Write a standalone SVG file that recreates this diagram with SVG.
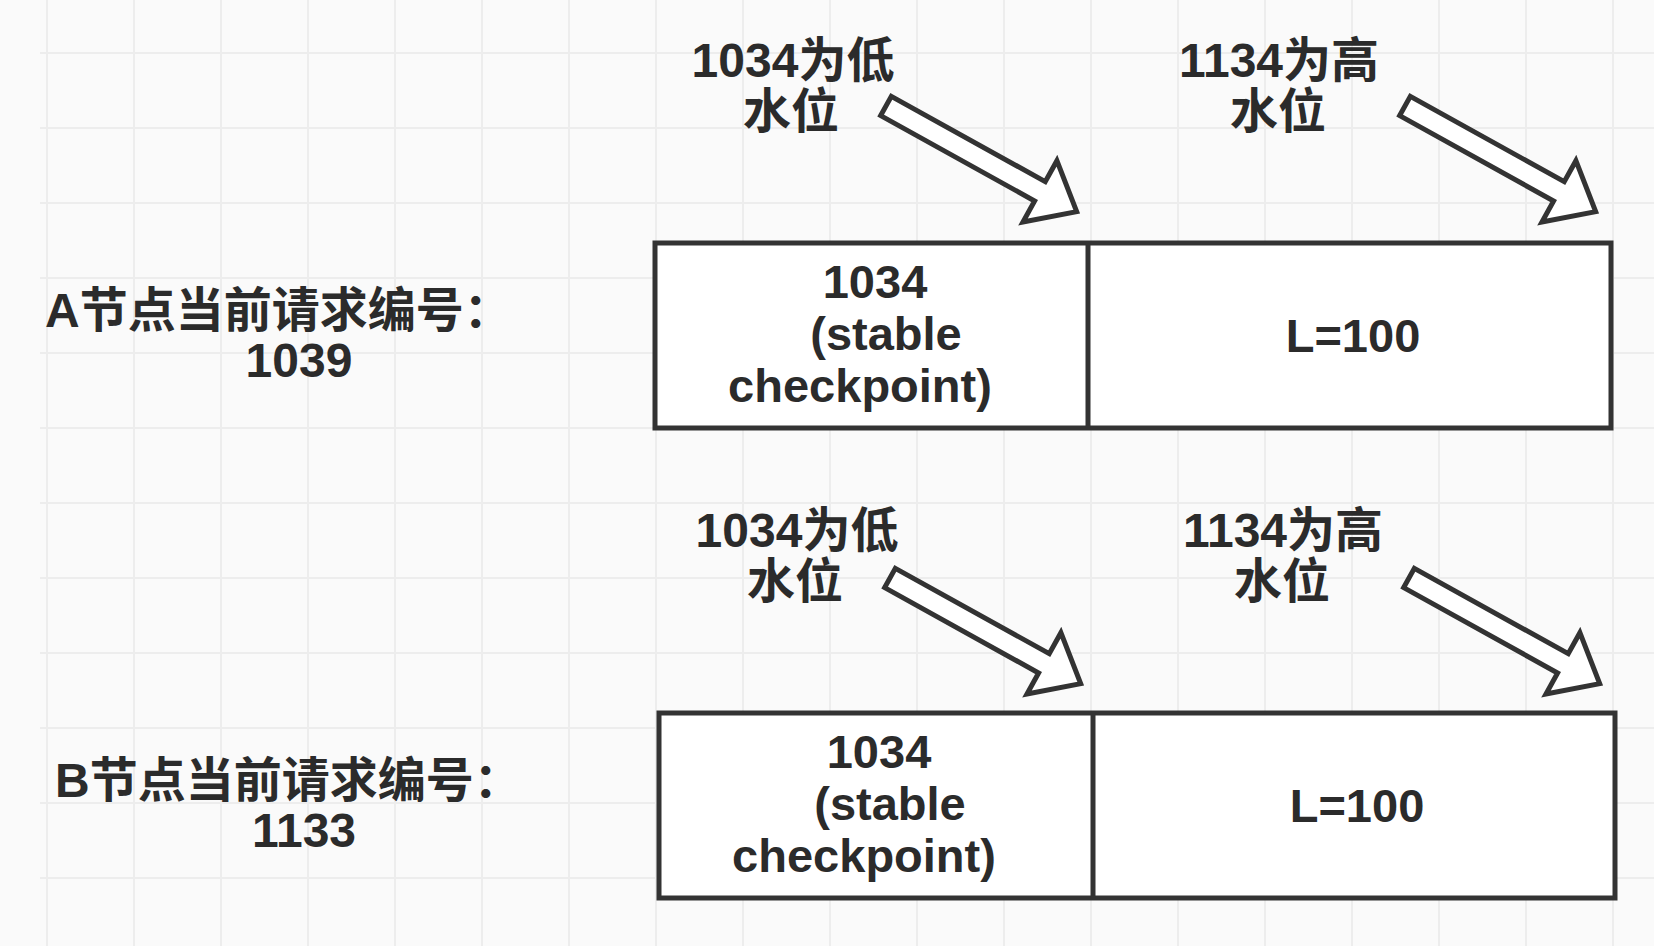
<svg xmlns="http://www.w3.org/2000/svg" width="1654" height="946" viewBox="0 0 1654 946">
  <defs>
    <style>
      .bg { fill: #fafafa; }
      .grid line { stroke: #ededed; stroke-width: 2; }
      .box { fill: #ffffff; stroke: #333333; stroke-width: 5; }
      .div { stroke: #333333; stroke-width: 5; }
      .arrow { fill: #ffffff; stroke: #333333; stroke-width: 5; stroke-linejoin: miter; }
      text { font-family: "Liberation Sans", "Noto Sans CJK SC", sans-serif; font-weight: bold; fill: #2b2b2b; }
      .lbl { font-size: 48px; text-anchor: middle; }
      .cell { font-size: 47px; text-anchor: middle; }
      .side { font-size: 48px; }
    </style>
    <path id="blockArrow" class="arrow" d="M0,-11 L176,-11 L176,-35 L218,0 L176,35 L176,11 L0,11 Z"/>
  </defs>

  <rect class="bg" x="0" y="0" width="1654" height="946"/>
  <g class="grid">
    <line x1="40" y1="53" x2="1654" y2="53"/>
    <line x1="40" y1="128" x2="1654" y2="128"/>
    <line x1="40" y1="203" x2="1654" y2="203"/>
    <line x1="40" y1="278" x2="1654" y2="278"/>
    <line x1="40" y1="353" x2="1654" y2="353"/>
    <line x1="40" y1="428" x2="1654" y2="428"/>
    <line x1="40" y1="503" x2="1654" y2="503"/>
    <line x1="40" y1="578" x2="1654" y2="578"/>
    <line x1="40" y1="653" x2="1654" y2="653"/>
    <line x1="40" y1="728" x2="1654" y2="728"/>
    <line x1="40" y1="803" x2="1654" y2="803"/>
    <line x1="40" y1="878" x2="1654" y2="878"/>
    <line x1="47" y1="0" x2="47" y2="946"/>
    <line x1="134" y1="0" x2="134" y2="946"/>
    <line x1="221" y1="0" x2="221" y2="946"/>
    <line x1="308" y1="0" x2="308" y2="946"/>
    <line x1="395" y1="0" x2="395" y2="946"/>
    <line x1="482" y1="0" x2="482" y2="946"/>
    <line x1="569" y1="0" x2="569" y2="946"/>
    <line x1="656" y1="0" x2="656" y2="946"/>
    <line x1="743" y1="0" x2="743" y2="946"/>
    <line x1="830" y1="0" x2="830" y2="946"/>
    <line x1="917" y1="0" x2="917" y2="946"/>
    <line x1="1004" y1="0" x2="1004" y2="946"/>
    <line x1="1091" y1="0" x2="1091" y2="946"/>
    <line x1="1178" y1="0" x2="1178" y2="946"/>
    <line x1="1265" y1="0" x2="1265" y2="946"/>
    <line x1="1352" y1="0" x2="1352" y2="946"/>
    <line x1="1439" y1="0" x2="1439" y2="946"/>
    <line x1="1526" y1="0" x2="1526" y2="946"/>
    <line x1="1613" y1="0" x2="1613" y2="946"/>
  </g>

  <!-- Row A -->
  <g id="labelA">
    <text class="side" x="45" y="327">A节点当前请求编号：</text>
    <text class="lbl" x="299" y="377">1039</text>
  </g>
  <g id="lowA">
    <text class="lbl" x="793" y="77">1034为低</text>
    <text class="lbl" x="791" y="128">水位</text>
  </g>
  <g id="highA">
    <text class="lbl" x="1279" y="77">1134为高</text>
    <text class="lbl" x="1278" y="128">水位</text>
  </g>
  <g id="boxA">
    <rect class="box" x="655" y="243" width="956" height="185"/>
    <line class="div" x1="1088" y1="243" x2="1088" y2="428"/>
    <text class="cell" x="875" y="298">1034</text>
    <text class="cell" x="886" y="350">(stable</text>
    <text class="cell" x="860" y="402">checkpoint)</text>
    <text class="cell" x="1353" y="352">L=100</text>
  </g>

  <!-- Row B -->
  <g id="labelB">
    <text class="side" x="55" y="797">B节点当前请求编号：</text>
    <text class="lbl" x="304" y="847">1133</text>
  </g>
  <g id="lowB">
    <text class="lbl" x="797" y="547">1034为低</text>
    <text class="lbl" x="795" y="598">水位</text>
  </g>
  <g id="highB">
    <text class="lbl" x="1283" y="547">1134为高</text>
    <text class="lbl" x="1282" y="598">水位</text>
  </g>
  <g id="boxB">
    <rect class="box" x="659" y="713" width="956" height="185"/>
    <line class="div" x1="1093" y1="713" x2="1093" y2="898"/>
    <text class="cell" x="879" y="768">1034</text>
    <text class="cell" x="890" y="820">(stable</text>
    <text class="cell" x="864" y="872">checkpoint)</text>
    <text class="cell" x="1357" y="822">L=100</text>
  </g>

  <!-- Connectors -->
  <g id="connectors">
    <use href="#blockArrow" transform="translate(886,106) rotate(29)"/>
    <use href="#blockArrow" transform="translate(1405,106) rotate(29)"/>
    <use href="#blockArrow" transform="translate(890,578) rotate(29)"/>
    <use href="#blockArrow" transform="translate(1409,578) rotate(29)"/>
  </g>
</svg>
